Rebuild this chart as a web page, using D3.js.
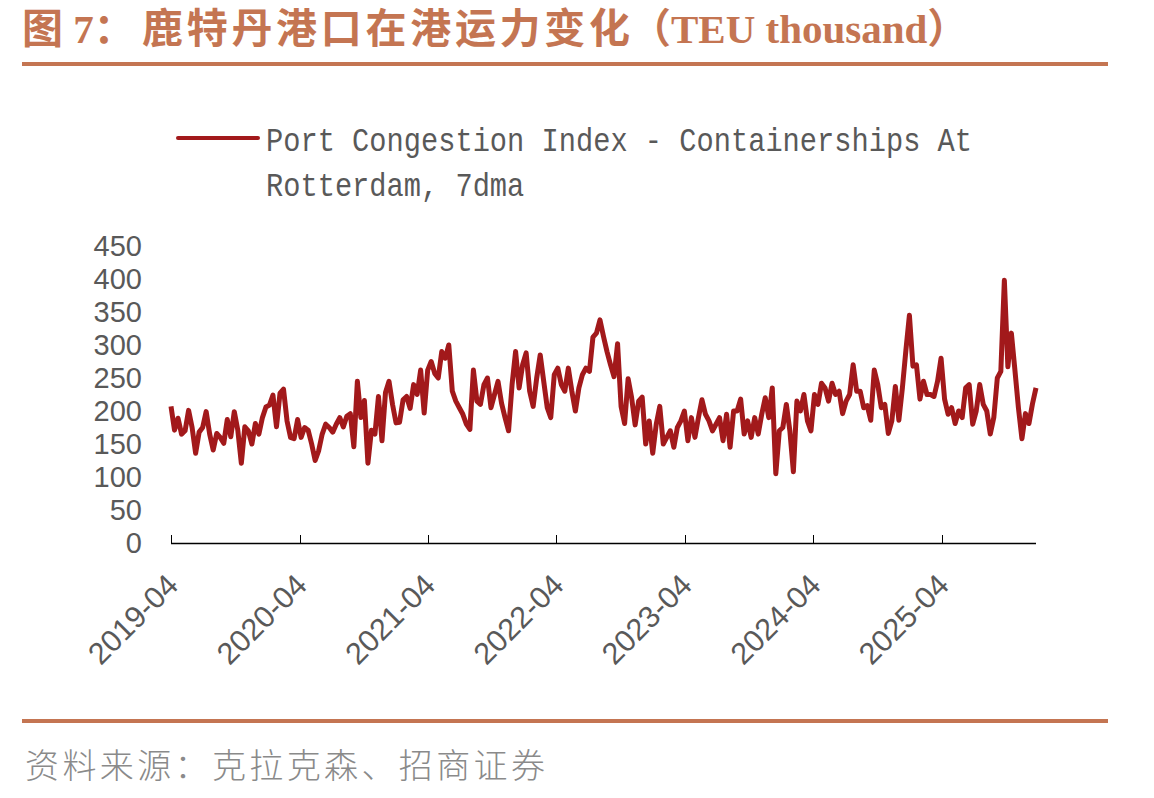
<!DOCTYPE html>
<html><head><meta charset="utf-8">
<script src="https://cdn.jsdelivr.net/npm/d3@7"></script>
<style>body{margin:0;background:#fff;} svg{display:block}</style>
</head><body>
<svg id="c" width="1154" height="798"></svg>
<script>
const titlePrefix = "图 7：";
const titleMain = "鹿特丹港口在港运力变化";
const titleUnit = "（TEU thousand）";
const legendLines = ["Port Congestion Index - Containerships At", "Rotterdam, 7dma"];
const sourceText = "资料来源：克拉克森、招商证券";
const yTicks = [0, 50, 100, 150, 200, 250, 300, 350, 400, 450];
const xTickLabels = ["2019-04", "2020-04", "2021-04", "2022-04", "2023-04", "2024-04", "2025-04"];
const startDate = "2019-04-01";
const stepDays = 10;
const congestion = [
207,171,189,165,170,201,175,136,168,175,
199,165,141,166,160,151,187,161,199,171,
121,176,170,150,181,165,190,206,209,224,
176,227,233,185,160,158,187,160,175,171,
150,125,140,165,180,175,168,180,190,176,
192,196,146,245,190,216,121,171,165,222,
155,228,245,210,182,183,217,222,204,240,
225,262,197,262,275,257,250,290,280,300,
230,215,205,195,180,172,262,215,210,240,
250,205,225,245,212,190,170,240,290,235,
270,288,230,207,250,285,245,205,190,255,
265,240,230,265,230,200,235,255,265,260,
312,318,338,313,290,270,252,302,207,181,
249,220,179,215,221,150,185,136,180,207,
150,160,170,145,175,185,200,155,190,160,
190,217,195,185,170,180,190,155,195,145,
200,200,218,165,185,160,190,165,195,220,
190,235,105,170,175,210,170,108,215,200,
225,185,170,225,210,242,235,215,242,225,
230,196,215,225,270,230,230,205,208,186,
262,240,205,210,166,185,237,186,235,292,
345,268,270,218,245,225,225,222,245,280,
218,195,205,181,200,190,235,240,180,200,
240,210,200,165,190,250,260,398,267,318,
262,205,158,196,181,211,235
];

const accent = "#C47552";
const lineColor = "#A2191B";
const textGray = "#595959";

const svg = d3.select("#c");
const parse = d3.timeParse("%Y-%m-%d");
const parseMonth = d3.timeParse("%Y-%m");
const t0 = parse(startDate);
const data = congestion.map((v, i) => ({ date: d3.timeDay.offset(t0, i * stepDays), value: v }));

const x = d3.scaleTime().domain([data[0].date, data[data.length - 1].date]).range([171, 1036]);
const y = d3.scaleLinear().domain([0, 450]).range([543, 246]);

// title
const tt = svg.append("text").attr("y", 43).attr("fill", accent)
  .attr("font-family", "'Liberation Serif','Noto Sans CJK SC',serif").attr("font-weight", "bold").attr("font-size", 41);
tt.append("tspan").attr("x", 22).text(titlePrefix);
tt.append("tspan").attr("x", 142).attr("textLength", 488).attr("lengthAdjust", "spacing").text(titleMain);
tt.append("tspan").attr("x", 630).text(titleUnit);

svg.append("rect").attr("x", 22).attr("y", 62).attr("width", 1086).attr("height", 4).attr("fill", accent);
svg.append("rect").attr("x", 22).attr("y", 719).attr("width", 1086).attr("height", 4).attr("fill", accent);

// source
svg.append("text").attr("x", 25).attr("y", 778).attr("fill", "#8a8a8a")
  .attr("font-family", "'Noto Sans CJK SC',sans-serif").attr("font-size", 34).attr("font-weight", 300)
  .attr("textLength", 520).attr("lengthAdjust", "spacing").text(sourceText);

// legend
svg.append("line").attr("x1", 178).attr("x2", 258).attr("y1", 138).attr("y2", 138)
  .attr("stroke", lineColor).attr("stroke-width", 4).attr("stroke-linecap", "round");
legendLines.forEach((s, i) => {
  svg.append("text").attr("x", 266).attr("y", 151 + i * 45).attr("fill", textGray)
    .attr("font-family", "'Liberation Mono',monospace").attr("font-size", 33)
    .attr("textLength", s.length * 17.22).attr("lengthAdjust", "spacingAndGlyphs").text(s);
});

// y labels
svg.append("g").selectAll("text").data(yTicks).join("text")
  .attr("x", 142).attr("y", d => y(d)).attr("dy", "0.36em").attr("text-anchor", "end")
  .attr("fill", textGray).attr("font-family", "'Liberation Sans',Arial,sans-serif").attr("font-size", 29)
  .text(d => d);

// x axis
const tickDates = xTickLabels.map(s => parseMonth(s));
svg.append("line").attr("x1", 171).attr("x2", 1036).attr("y1", 543.5).attr("y2", 543.5)
  .attr("stroke", "#000").attr("stroke-width", 1.3);
svg.append("g").selectAll("line").data(tickDates).join("line")
  .attr("x1", d => Math.round(x(d)) + 0.5).attr("x2", d => Math.round(x(d)) + 0.5)
  .attr("y1", 543).attr("y2", 535).attr("stroke", "#000").attr("stroke-width", 1);
svg.append("g").selectAll("text").data(xTickLabels).join("text")
  .attr("transform", d => `translate(${x(parseMonth(d)) + 9},${587}) rotate(-45)`)
  .attr("text-anchor", "end").attr("fill", textGray)
  .attr("font-family", "'Liberation Sans',Arial,sans-serif").attr("font-size", 30.5)
  .text(d => d);

// line
const line = d3.line().x(d => x(d.date)).y(d => y(d.value)).curve(d3.curveLinear);
svg.append("path").datum(data).attr("d", line).attr("fill", "none")
  .attr("stroke", lineColor).attr("stroke-width", 5).attr("stroke-linejoin", "round");
</script>
</body></html>
